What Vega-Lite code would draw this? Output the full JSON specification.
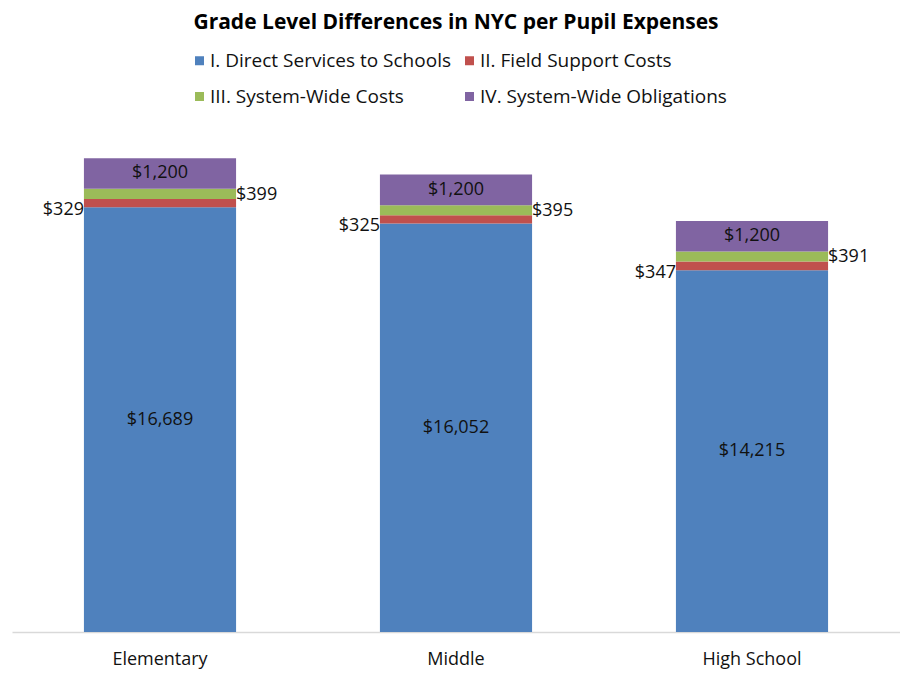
{
  "$schema": "https://vega.github.io/schema/vega-lite/v6.json",
  "autosize": "none",
  "width": 888,
  "height": 509,
  "padding": {"left": 12, "top": 123, "right": 0, "bottom": 41},
  "background": "white",
  "title": {"text": "Grade Level Differences in NYC per Pupil Expenses", "anchor": "middle", "fontSize": 21, "font": "Open Sans", "fontWeight": "bold", "color": "#000000", "offset": 18},
  "config": {
    "view": {"stroke": null},
    "font": "Open Sans",
    "text": {"font": "Open Sans"}
  },
  "data": {"values": [
    {"grade": "Elementary", "seg": "I. Direct Services to Schools", "amount": 16689},
    {"grade": "Elementary", "seg": "II. Field Support Costs", "amount": 329},
    {"grade": "Elementary", "seg": "III. System-Wide Costs", "amount": 399},
    {"grade": "Elementary", "seg": "IV. System-Wide Obligations", "amount": 1200},
    {"grade": "Middle", "seg": "I. Direct Services to Schools", "amount": 16052},
    {"grade": "Middle", "seg": "II. Field Support Costs", "amount": 325},
    {"grade": "Middle", "seg": "III. System-Wide Costs", "amount": 395},
    {"grade": "Middle", "seg": "IV. System-Wide Obligations", "amount": 1200},
    {"grade": "High School", "seg": "I. Direct Services to Schools", "amount": 14215},
    {"grade": "High School", "seg": "II. Field Support Costs", "amount": 347},
    {"grade": "High School", "seg": "III. System-Wide Costs", "amount": 391},
    {"grade": "High School", "seg": "IV. System-Wide Obligations", "amount": 1200}
  ]},
  "encoding": {
    "x": {"field": "grade", "type": "nominal", "sort": ["Elementary", "Middle", "High School"],
      "scale": {"paddingInner": 0.486, "paddingOuter": 0.243},
      "axis": {"title": null, "ticks": false, "labelAngle": 0, "labelFontSize": 18, "labelColor": "#111111", "labelPadding": 18, "domainColor": "#d9d9d9", "domainWidth": 1.5, "labelFont": "Open Sans"}}
  },
  "layer": [
    {
      "mark": {"type": "bar"},
      "encoding": {
        "y": {"field": "amount", "type": "quantitative", "stack": "zero", "scale": {"domain": [0, 20000]}, "axis": null},
        "order": {"field": "seg", "sort": "ascending"},
        "color": {"field": "seg", "type": "nominal",
          "scale": {"domain": ["I. Direct Services to Schools", "II. Field Support Costs", "III. System-Wide Costs", "IV. System-Wide Obligations"], "range": ["#4F81BD", "#C0504D", "#9BBB59", "#8064A2"]},
          "legend": {"title": null, "orient": "none", "direction": "horizontal", "legendX": 178, "legendY": -72, "columns": 2, "symbolType": "square", "symbolSize": 81, "symbolStrokeWidth": 0, "labelFontSize": 19, "labelColor": "#111111", "labelFont": "Open Sans", "labelLimit": 400, "rowPadding": 16, "columnPadding": 9, "labelOffset": 1}}
      }
    },
    {
      "mark": {"type": "text", "fontSize": 18, "color": "#111111", "baseline": "middle", "align": "center"},
      "encoding": {
        "y": {"field": "amount", "type": "quantitative", "stack": "zero", "bandPosition": 0.5},
        "detail": {"field": "seg"},
        "order": {"field": "seg", "sort": "ascending"},
        "text": {"condition": {"test": "datum.seg === 'I. Direct Services to Schools' || datum.seg === 'IV. System-Wide Obligations'", "field": "amount", "type": "quantitative", "format": "$,.0f"}, "value": ""}
      }
    },
    {
      "mark": {"type": "text", "fontSize": 18, "color": "#111111", "baseline": "middle", "align": "right", "dx": -76, "dy": 7},
      "encoding": {
        "y": {"field": "amount", "type": "quantitative", "stack": "zero", "bandPosition": 0.5},
        "detail": {"field": "seg"},
        "order": {"field": "seg", "sort": "ascending"},
        "text": {"condition": {"test": "datum.seg === 'II. Field Support Costs'", "field": "amount", "type": "quantitative", "format": "$,.0f"}, "value": ""}
      }
    },
    {
      "mark": {"type": "text", "fontSize": 18, "color": "#111111", "baseline": "middle", "align": "left", "dx": 76, "dy": 1},
      "encoding": {
        "y": {"field": "amount", "type": "quantitative", "stack": "zero", "bandPosition": 0.5},
        "detail": {"field": "seg"},
        "order": {"field": "seg", "sort": "ascending"},
        "text": {"condition": {"test": "datum.seg === 'III. System-Wide Costs'", "field": "amount", "type": "quantitative", "format": "$,.0f"}, "value": ""}
      }
    }
  ]
}
